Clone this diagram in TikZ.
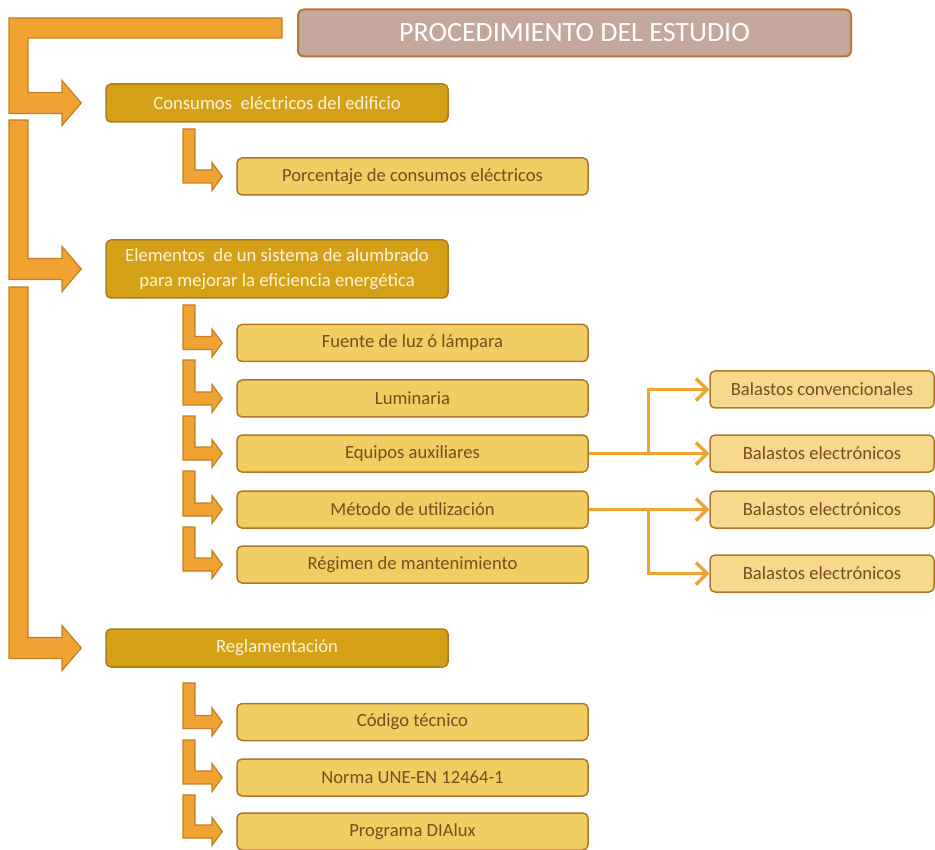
\documentclass[tikz,border=0pt]{standalone}
\usepackage{fontspec}
\setmainfont{Carlito}
\usetikzlibrary{arrows.meta,calc}

\definecolor{titlefill}{HTML}{C4A89B}
\definecolor{titleline}{HTML}{B8772C}
\definecolor{mainfill}{HTML}{D4A116}
\definecolor{mainline}{HTML}{B07A1E}
\definecolor{maintext}{HTML}{FFF4DA}
\definecolor{subfill}{HTML}{F2CD62}
\definecolor{subline}{HTML}{B07828}
\definecolor{subtext}{HTML}{7C4B1E}
\definecolor{sidefill}{HTML}{F6D98C}
\definecolor{arrowfill}{HTML}{F0A232}
\definecolor{arrowline}{HTML}{C47F24}
\definecolor{branchcol}{HTML}{F0A232}

\tikzset{
  titlebox/.style={draw=titleline, fill=titlefill, line width=2pt, rounded corners=6pt,
    minimum width=553pt, minimum height=47pt, inner sep=0pt, text=white,
    font=\fontsize{28}{32}\selectfont},
  mainbox/.style={draw=mainline, fill=mainfill, line width=1.5pt, rounded corners=5pt,
    minimum width=342pt, minimum height=38pt, inner sep=0pt, text=maintext, align=center,
    font=\fontsize{18.7}{25}\selectfont},
  subbox/.style={draw=subline, fill=subfill, line width=1.5pt, rounded corners=5pt,
    minimum width=351pt, minimum height=37pt, inner sep=0pt, text=subtext,
    font=\fontsize{18.6}{22}\selectfont},
  sidebox/.style={draw=subline, fill=sidefill, line width=1.5pt, rounded corners=5pt,
    minimum width=224pt, minimum height=37pt, inner sep=0pt, text=subtext,
    font=\fontsize{18.6}{22}\selectfont},
  blockarrow/.style={draw=arrowline, fill=arrowfill, line width=1.2pt, line join=miter},
  branch/.style={draw=branchcol, line width=3.2pt,
    -{Straight Barb[length=11pt,width=22pt,line width=3.2pt]}},
}

% large L-shaped block arrow from a given top edge to the west side of a node
\newcommand\bigLarrow[2]{%
  \path[blockarrow] let \p1=(#2.west) in
    (9pt,-#1pt) -- (28pt,-#1pt) -- (28pt,\y1+10.5pt) -- (62pt,\y1+10.5pt)
    -- (62pt,\y1+22.5pt) -- (\x1-24pt,\y1) -- (62pt,\y1-22.5pt)
    -- (62pt,\y1-10.5pt) -- (9pt,\y1-10.5pt) -- cycle;}

% small L-shaped block arrow
\newcommand\smallLarrow[2]{%
  \path[blockarrow] let \p1=(#2.west) in
    (183pt,-#1pt) -- (195pt,-#1pt) -- (195pt,\y1+6.5pt) -- (212pt,\y1+6.5pt)
    -- (212pt,\y1+14pt) -- (\x1-14pt,\y1) -- (212pt,\y1-14pt)
    -- (212pt,\y1-6.5pt) -- (183pt,\y1-6.5pt) -- cycle;}

\begin{document}
\begin{tikzpicture}[x=1pt,y=-1pt]
\useasboundingbox (0,0) rectangle (935,850);

% header
\node[titlebox] (title) at (574.5,33) {PROCEDIMIENTO DEL ESTUDIO};

% main sections
\node[mainbox] (cons) at (277,103) {Consumos\ \ eléctricos del edificio};
\node[mainbox, minimum height=58pt] (elem) at (277,269)
  {Elementos\ \ de un sistema de alumbrado\\para mejorar la eficiencia energética};
\node[mainbox] (regl) at (277,648) {Reglamentación};

% sub items
\node[subbox] (porc) at (412.5,176.5) {Porcentaje de consumos eléctricos};
\node[subbox] (fuente) at (412.5,343) {Fuente de luz ó lámpara};
\node[subbox] (lumi) at (412.5,398.5) {Luminaria};
\node[subbox] (equip) at (412.5,453.5) {Equipos auxiliares};
\node[subbox] (metodo) at (412.5,509.5) {Método de utilización};
\node[subbox] (regimen) at (412.5,564.5) {Régimen de mantenimiento};
\node[subbox] (codigo) at (412.5,722) {Código técnico};
\node[subbox] (norma) at (412.5,777.5) {Norma UNE-EN 12464-1};
\node[subbox] (dialux) at (412.5,831.5) {Programa DIAlux};

% ballast boxes
\node[sidebox] (bconv) at (822,389.5) {Balastos convencionales};
\node[sidebox] (belec1) at (822,453.5) {Balastos electrónicos};
\node[sidebox] (belec2) at (822,509.5) {Balastos electrónicos};
\node[sidebox] (belec3) at (822,573.5) {Balastos electrónicos};

% top bar joined to the first large arrow
\path[blockarrow] let \p1=(cons.west) in
  (9pt,-18pt) -- (282pt,-18pt) -- (282pt,-38pt) -- (28pt,-38pt)
  -- (28pt,\y1+10.5pt) -- (62pt,\y1+10.5pt) -- (62pt,\y1+22.5pt)
  -- (\x1-24pt,\y1) -- (62pt,\y1-22.5pt) -- (62pt,\y1-10.5pt)
  -- (9pt,\y1-10.5pt) -- cycle;
\bigLarrow{120}{elem}
\bigLarrow{287}{regl}

% small arrows
\smallLarrow{129}{porc}
\smallLarrow{305}{fuente}
\smallLarrow{360}{lumi}
\smallLarrow{416}{equip}
\smallLarrow{471}{metodo}
\smallLarrow{527}{regimen}
\smallLarrow{683}{codigo}
\smallLarrow{740}{norma}
\smallLarrow{795}{dialux}

% branch connectors
\coordinate (j1) at ($(equip.east)+(60,0)$);
\coordinate (j2) at ($(metodo.east)+(60,0)$);
\draw[branch] (equip.east) -- (j1) |- (bconv.west);
\draw[branch] (equip.east) -- (belec1.west);
\draw[branch] (metodo.east) -- (belec2.west);
\draw[branch] (metodo.east) -- (j2) |- (belec3.west);
\end{tikzpicture}
\end{document}
